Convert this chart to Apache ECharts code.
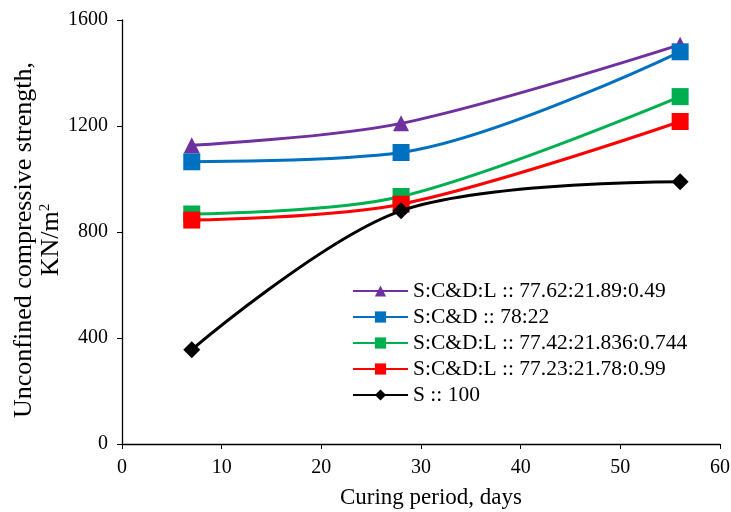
<!DOCTYPE html>
<html>
<head>
<meta charset="utf-8">
<script src="https://cdn.jsdelivr.net/npm/echarts@6/dist/echarts.min.js"></script>
<style>html,body{margin:0;padding:0;background:#fff;}#c{width:731px;height:512px;}</style>
</head>
<body>
<div id="c"></div>
<script>
var days = [7, 28, 56];
var seriesNames = [
  'S:C&D:L :: 77.62:21.89:0.49',
  'S:C&D :: 78:22',
  'S:C&D:L :: 77.42:21.836:0.744',
  'S:C&D:L :: 77.23:21.78:0.99',
  'S :: 100'
];
var purpleValues = [1127, 1210, 1507];
var blueValues = [1065, 1100, 1480];
var greenValues = [868, 934, 1311];
var redValues = [845, 905, 1217];
var blackValues = [356, 880, 990];
var xTicks = [0, 10, 20, 30, 40, 50, 60];
var yTicks = [0, 400, 800, 1200, 1600];

var allValues = [purpleValues, blueValues, greenValues, redValues, blackValues];
var colors = ['#7030A0', '#0070C0', '#00B050', '#FF0000', '#000000'];
var symbols = ['triangle', 'rect', 'rect', 'rect', 'diamond'];
var symbolSizes = [16, 17, 17, 17, 17];
var FONT = 'Liberation Serif';

var chart = echarts.init(document.getElementById('c'));
var series = allValues.map(function (vals, i) {
  return {
    name: seriesNames[i],
    type: 'line',
    data: days.map(function (d, j) { return [d, vals[j]]; }),
    smooth: 0.33,
    symbol: symbols[i],
    symbolSize: symbolSizes[i],
    showAllSymbol: true,
    lineStyle: { color: colors[i], width: 3 },
    itemStyle: { color: colors[i], borderWidth: 0 },
    z: 2 + i
  };
});

function plain(v) { return String(v); }

chart.setOption({
  animation: false,
  backgroundColor: '#ffffff',
  textStyle: { fontFamily: FONT },
  grid: { left: 122, right: 11, top: 20, bottom: 68, containLabel: false, outerBoundsMode: 'none' },
  legend: {
    orient: 'vertical',
    left: 347,
    top: 275,
    itemWidth: 55,
    itemHeight: 14,
    itemGap: 4,
    data: seriesNames,
    textStyle: { fontFamily: FONT, fontSize: 21.5, color: '#000' }
  },
  xAxis: {
    type: 'value',
    min: xTicks[0],
    max: xTicks[xTicks.length - 1],
    interval: 10,
    name: 'Curing period, days',
    nameLocation: 'middle',
    nameGap: 42,
    nameMoveOverlap: false,
    nameTextStyle: { fontFamily: FONT, fontSize: 23, color: '#000', padding: [0, 0, 0, 20] },
    axisLine: { lineStyle: { color: '#000', width: 1.3 } },
    axisTick: { inside: false, length: 5, lineStyle: { color: '#000' } },
    axisLabel: { fontFamily: FONT, fontSize: 20, color: '#000', margin: 14, formatter: plain },
    splitLine: { show: false }
  },
  yAxis: {
    type: 'value',
    min: yTicks[0],
    max: yTicks[yTicks.length - 1],
    interval: 400,
    name: 'Unconfined compressive strength,\nKN/m{sup|2}',
    nameLocation: 'middle',
    nameGap: 57,
    nameRotate: 90,
    nameMoveOverlap: false,
    nameTextStyle: {
      fontFamily: FONT, fontSize: 26, color: '#000', lineHeight: 27, padding: [0, 16, 0, 0],
      rich: { sup: { fontFamily: FONT, fontSize: 15, color: '#000', verticalAlign: 'top', lineHeight: 15 } }
    },
    axisLine: { show: true, lineStyle: { color: '#000', width: 1.3 } },
    axisTick: { show: true, inside: false, length: 5, lineStyle: { color: '#000' } },
    axisLabel: { fontFamily: FONT, fontSize: 20, color: '#000', margin: 14, formatter: plain },
    splitLine: { show: false }
  },
  series: series
});
</script>
</body>
</html>
